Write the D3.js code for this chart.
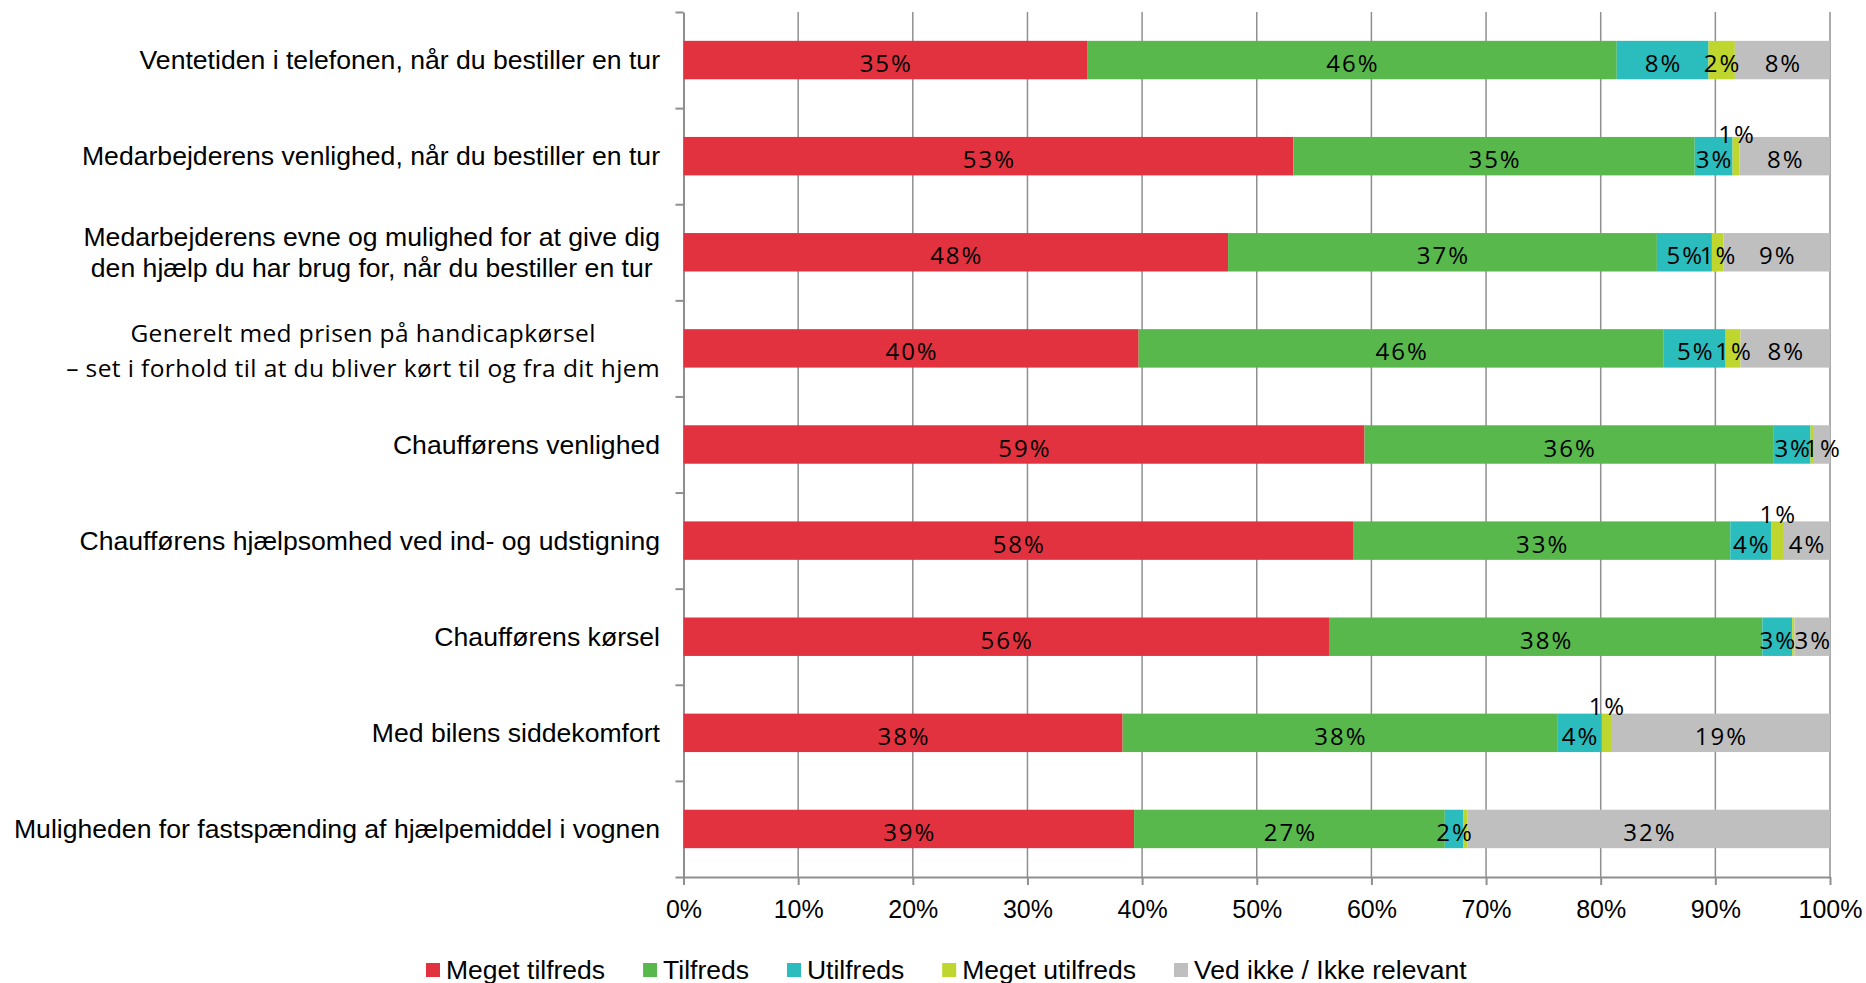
<!DOCTYPE html>
<html>
<head>
<meta charset="utf-8">
<script src="https://cdn.jsdelivr.net/npm/d3@7"></script>
<style>
  body { margin: 0; background: #ffffff; }
  .grid line { stroke: #8f8f8f; stroke-width: 1.5; }
  .axis path, .axis line { stroke: #8f8f8f; stroke-width: 2; }
  .axis text { font-family: "Liberation Sans", Arial, sans-serif; font-size: 25px; fill: #000; }
  .cat-label { font-family: "Liberation Sans", Arial, sans-serif; font-size: 26.6px; fill: #000; }
  .cat-label.alt { font-family: "Open Sans", "Noto Sans", sans-serif; font-size: 24.5px; letter-spacing: 0.4px; }
  .bar-label { font-family: "Open Sans", "Noto Sans", sans-serif; font-size: 24px; letter-spacing: 2px; fill: #000; }
  .legend text { font-family: "Liberation Sans", Arial, sans-serif; font-size: 26.5px; fill: #000; }
</style>
</head>
<body>
<div id="chart"></div>
<script>

// categories, top to bottom ('\n' = line break in the label)
const categories = [
    'Ventetiden i telefonen, når du bestiller en tur',
    'Medarbejderens venlighed, når du bestiller en tur',
    'Medarbejderens evne og mulighed for at give dig\nden hjælp du har brug for, når du bestiller en tur',
    'Generelt med prisen på handicapkørsel\n– set i forhold til at du bliver kørt til og fra dit hjem',
    'Chaufførens venlighed',
    'Chaufførens hjælpsomhed ved ind- og udstigning',
    'Chaufførens kørsel',
    'Med bilens siddekomfort',
    'Muligheden for fastspænding af hjælpemiddel i vognen'
];

const seriesNames = ['Meget tilfreds', 'Tilfreds', 'Utilfreds', 'Meget utilfreds', 'Ved ikke / Ikke relevant'];

const megetTilfreds  = [35.2, 53.2, 47.5, 39.7, 59.4, 58.4, 56.3, 38.3, 39.3];
const tilfreds       = [46.2, 35.0, 37.4, 45.8, 35.7, 32.9, 37.8, 37.9, 27.1];
const utilfreds      = [8.0, 3.3, 4.8, 5.4, 3.2, 3.6, 2.6, 3.9, 1.6];
const megetUtilfreds = [2.3, 0.6, 1.0, 1.3, 0.3, 1.0, 0.2, 0.8, 0.4];
const vedIkke        = [8.3, 7.9, 9.3, 7.8, 1.4, 4.1, 3.1, 19.1, 31.6];

const seriesColors = ['#e3323f', '#58b84b', '#2bbcbd', '#bfd62f', '#bfbfbf'];

const xTickValues = [0, 10, 20, 30, 40, 50, 60, 70, 80, 90, 100];

// labels that Excel pushed above the bar (row index, series index, shift in px)
const raisedLabels = [
    { row: 1, series: 3, dy: -25 },
    { row: 5, series: 3, dy: -30 },
    { row: 7, series: 3, dy: -30 }
];

const width = 1866, height = 983;
const plot = { left: 683.5, right: 1830, top: 12, bottom: 877 };
const labelRight = 660;


function buildRows() {

    let values = [megetTilfreds, tilfreds, utilfreds, megetUtilfreds, vedIkke];

    return categories.map((c, i) => {
        let row = { index: i };
        seriesNames.forEach((s, k) => row[s] = values[k][i]);
        return row;
    });
}

function createSVG(containerId) {

    try {

        return d3.select(containerId)
            .append('svg')
            .attr('width', width)
            .attr('height', height)
            .attr('viewBox', '0 0 ' + width + ' ' + height);

    } catch (error) {

        console.log('createSVG. Error: ' + error);
        return null;
    }
}

function drawGridAndAxes(svg, x, yEdge) {

    try {

        svg.append('g')
            .attr('class', 'grid')
            .selectAll('line')
            .data(xTickValues.slice(1)).enter()
            .append('line')
            .attr('x1', d => x(d)).attr('x2', d => x(d))
            .attr('y1', plot.top).attr('y2', plot.bottom);

        svg.append('g')
            .attr('class', 'axis')
            .attr('transform', 'translate(0,' + plot.bottom + ')')
            .call(d3.axisBottom(x).tickValues(xTickValues).tickSize(8).tickSizeOuter(0).tickPadding(9).tickFormat(d => d + '%'))
            .call(g => g.selectAll('text').attr('dy', '0.95em'));

        svg.append('g')
            .attr('class', 'axis')
            .attr('transform', 'translate(' + plot.left + ',0)')
            .call(d3.axisLeft(yEdge).ticks(categories.length).tickSize(8).tickSizeOuter(0).tickFormat(''));

    } catch (error) {

        console.log('drawGridAndAxes. Error: ' + error);
    }
}

function drawBars(svg, x, y, stacked) {

    try {

        let layers = svg.append('g')
            .selectAll('g')
            .data(stacked).enter()
            .append('g')
            .attr('fill', (d, k) => seriesColors[k]);

        layers.selectAll('rect')
            .data(d => d).enter()
            .append('rect')
            .attr('x', d => x(d[0]))
            .attr('width', d => x(d[1]) - x(d[0]))
            .attr('y', d => y(d.data.index))
            .attr('height', y.bandwidth());

        // value labels
        stacked.forEach((layer, k) => {
            layer.forEach(d => {
                let v = Math.round(d[1] - d[0]);
                if (v < 1) return;
                let raised = raisedLabels.find(r => r.row === d.data.index && r.series === k);
                let yc = y(d.data.index) + y.bandwidth() / 2 + 12 + (raised ? raised.dy : 0);
                svg.append('text')
                    .attr('class', 'bar-label')
                    .attr('text-anchor', 'middle')
                    .attr('x', (x(d[0]) + x(d[1])) / 2 + 1)
                    .attr('y', yc)
                    .text(v + '%');
            });
        });

    } catch (error) {

        console.log('drawBars. Error: ' + error);
    }
}

function drawCategoryLabels(svg, y) {

    try {

        categories.forEach((cat, i) => {

            let lines = cat.split('\n');
            let alt = cat.startsWith('Generelt');
            let lineGap = alt ? 35 : 31;
            let cy = y(i) + y.bandwidth() / 2;
            let baseline = cy + (alt ? 11 : 9) - (lines.length - 1) * lineGap / 2;

            let text = svg.append('text')
                .attr('class', alt ? 'cat-label alt' : 'cat-label');

            if (lines.length === 1) {
                text.attr('text-anchor', 'end')
                    .attr('x', labelRight)
                    .attr('y', baseline)
                    .text(cat);
                return;
            }

            // Excel centres the lines of a wrapped label on each other
            let spans = lines.map((ln, j) => text.append('tspan')
                .attr('text-anchor', 'middle')
                .attr('y', baseline + j * lineGap)
                .text(ln));
            let maxW = d3.max(spans, s => s.node().getComputedTextLength());
            spans.forEach(s => s.attr('x', labelRight - maxW / 2));
        });

    } catch (error) {

        console.log('drawCategoryLabels. Error: ' + error);
    }
}

function drawLegend(svg) {

    try {

        let legend = svg.append('g').attr('class', 'legend');
        let cursor = 426;

        seriesNames.forEach((name, k) => {
            legend.append('rect')
                .attr('x', cursor).attr('y', 963)
                .attr('width', 14).attr('height', 14)
                .attr('fill', seriesColors[k]);
            let t = legend.append('text')
                .attr('x', cursor + 20).attr('y', 979)
                .text(name);
            cursor += 20 + t.node().getComputedTextLength() + 38;
        });

    } catch (error) {

        console.log('drawLegend. Error: ' + error);
    }
}


let rows = buildRows();
let stacked = d3.stack().keys(seriesNames)(rows);

let x = d3.scaleLinear().domain([0, 100]).range([plot.left, plot.right]);
let y = d3.scaleBand()
    .domain(d3.range(categories.length))
    .range([plot.top, plot.bottom])
    .paddingInner(0.6)
    .paddingOuter(0.3);
let yEdge = d3.scaleLinear().domain([0, categories.length]).range([plot.top, plot.bottom]);

let svg = createSVG('#chart');
drawGridAndAxes(svg, x, yEdge);
drawBars(svg, x, y, stacked);
drawCategoryLabels(svg, y);
drawLegend(svg);

</script>
</body>
</html>
